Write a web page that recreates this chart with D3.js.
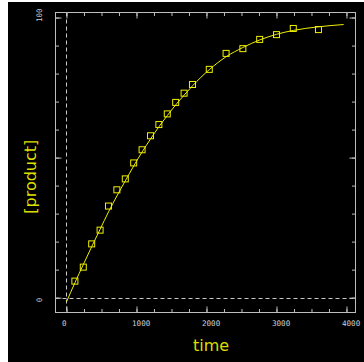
<!DOCTYPE html>
<html><head><meta charset="utf-8">
<script src="https://cdn.jsdelivr.net/npm/d3@7"></script>
<style>html,body{margin:0;padding:0;background:#fff;}svg{display:block;}</style>
</head><body>
<svg id="c" width="364" height="362"></svg>
<script>
const times = [120,240,360,480,600,720,840,960,1080,1200,1320,1440,1560,1680,1800,2040,2280,2520,2760,3000,3240,3600];
const product = [5.9,10.9,19.2,24.1,32.7,38.5,42.4,48.1,52.8,57.8,61.8,65.6,69.7,73.0,76.1,81.5,87.2,88.9,92.2,93.9,96.1,95.7];
const fitTime = [0,120,240,360,480,600,720,840,960,1080,1200,1320,1440,1560,1680,1800,2040,2280,2520,2760,3000,3240,3600,3960];
const fitProduct = [-1.5,5.3,11.8,18.2,24.4,30.6,36.3,41.7,47.0,52.0,56.6,61.0,65.0,68.8,72.3,75.6,81.4,86.0,89.3,92.0,94.0,95.4,96.7,97.5];
const xMinorTicks = d3.range(0, 4001, 250);
const xMajorTicks = [0,1000,2000,3000,4000];
const yMinorTicks = d3.range(0, 101, 10);
const yMajorTicks = [0,50,100];
const xTickLabels = ["0","1000","2000","3000","4000"];
const yTickLabels = ["0","100"];
const yLabelValues = [0,100];

const svg = d3.select("#c");
svg.append("rect").attr("x",8).attr("y",2).attr("width",356).attr("height",360).attr("fill","#000");

const L=55.5, R=355.5, T=12.5, B=312.5;
const x = d3.scaleLinear().domain([-157,4129]).range([L,R]);
const y = d3.scaleLinear().domain([-5.3,101.8]).range([B,T]);
const grey="#bdbdbd";

// dashed zero lines
svg.append("line").attr("x1",Math.round(x(0))+0.5).attr("x2",Math.round(x(0))+0.5).attr("y1",T).attr("y2",B)
  .attr("stroke","#c8c8c8").attr("stroke-dasharray","4,3");
svg.append("line").attr("x1",L).attr("x2",R).attr("y1",Math.round(y(0))+0.5).attr("y2",Math.round(y(0))+0.5)
  .attr("stroke","#c8c8c8").attr("stroke-dasharray","4,3");

function ax(gen, vals, size, tx, ty){
  const g = svg.append("g").attr("transform",`translate(${tx},${ty})`)
    .call(gen.tickValues(vals).tickSize(size).tickFormat(""));
  g.select(".domain").remove();
  g.selectAll("line").attr("stroke",grey);
  return g;
}
ax(d3.axisTop(x), xMinorTicks, 3.5, 0, B);
ax(d3.axisTop(x), xMajorTicks, 6, 0, B);
ax(d3.axisBottom(x), xMinorTicks, 3.5, 0, T);
ax(d3.axisBottom(x), xMajorTicks, 6, 0, T);
ax(d3.axisRight(y), yMinorTicks, 3.5, L, 0);
ax(d3.axisRight(y), yMajorTicks, 6, L, 0);
ax(d3.axisLeft(y), yMinorTicks, 3.5, R, 0);
ax(d3.axisLeft(y), yMajorTicks, 6, R, 0);

svg.append("rect").attr("x",L).attr("y",T).attr("width",R-L).attr("height",B-T)
  .attr("fill","none").attr("stroke",grey);

const mono = "'DejaVu Sans Mono', monospace";
svg.selectAll(".xl").data(xMajorTicks).enter().append("text")
  .attr("x",(d)=>x(d)-4.5).attr("y",325.5).attr("fill","#cfcfcf")
  .attr("font-family",mono).attr("font-size",7.6).text((d,i)=>xTickLabels[i]);
svg.selectAll(".yl").data(yLabelValues).enter().append("text")
  .attr("transform",(d)=>`translate(42,${y(d)+4.5}) rotate(-90)`).attr("fill","#cfcfcf")
  .attr("font-family",mono).attr("font-size",7.6).text((d,i)=>yTickLabels[i]);

// fit line
const line = d3.line().x((d)=>x(d[0])).y((d)=>y(d[1])).curve(d3.curveMonotoneX);
svg.append("path").datum(fitTime.map((t,i)=>[t,fitProduct[i]])).attr("d",line)
  .attr("fill","none").attr("stroke","#f0f000").attr("stroke-width",1);

// markers
svg.selectAll(".pt").data(times).enter().append("rect")
  .attr("x",(d)=>x(d)-3).attr("y",(d,i)=>y(product[i])-3).attr("width",6).attr("height",6)
  .attr("fill","none").attr("stroke","#f0f000").attr("stroke-width",1);

// titles
svg.append("text").attr("x",211).attr("y",351).attr("text-anchor","middle")
  .attr("font-family","'DejaVu Sans', sans-serif").attr("font-size",16).attr("fill","#dede00").text("time");
svg.append("text").attr("transform","translate(36,176.7) rotate(-90)").attr("text-anchor","middle")
  .attr("font-family","'DejaVu Sans', sans-serif").attr("font-size",16).attr("fill","#dede00").text("[product]");
</script>
</body></html>
